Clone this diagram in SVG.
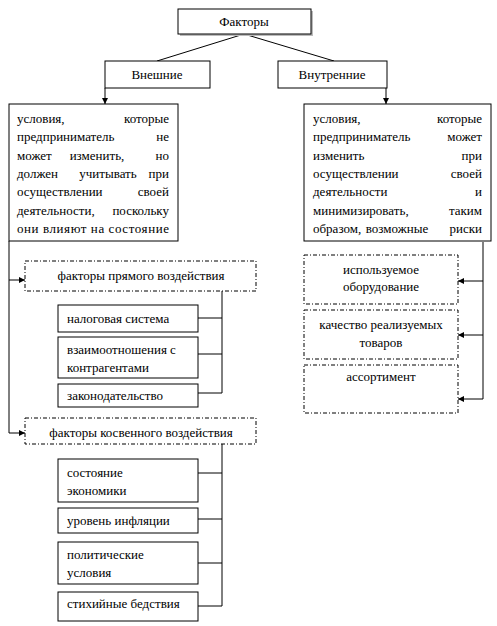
<svg xmlns="http://www.w3.org/2000/svg" width="497" height="626" viewBox="0 0 497 626">
<defs>
<style>
text{font-size:13px;fill:#000}
.box{fill:#fff;stroke:#000;stroke-width:1}
.dash{fill:#fff;stroke:#000;stroke-width:1;stroke-dasharray:4 2 1 2}
.ln{fill:none;stroke:#000;stroke-width:1}
.m{text-anchor:middle}
.e{text-anchor:end}
</style>
<marker id="ah" markerUnits="userSpaceOnUse" markerWidth="7" markerHeight="6" refX="6" refY="3" orient="auto">
<path d="M0,0 L6,3 L0,6 z" fill="#000"/>
</marker>
</defs>
<rect width="497" height="626" fill="#fff"/>
<g font-family="Liberation Serif, DejaVu Serif, serif">
<g id="connectors">
<path class="ln" d="M244,34 L157,61"/>
<path class="ln" d="M244,34 L334,61"/>
<path class="ln" d="M105,88 V104" marker-end="url(#ah)"/>
<path class="ln" d="M386,88 V104" marker-end="url(#ah)"/>
<path class="ln" d="M9,241 V433 H25" marker-end="url(#ah)"/>
<path class="ln" d="M9,280 H25" marker-end="url(#ah)"/>
<path class="ln" d="M222,291 V393 H198 M198,318 H222 M198,354 H222"/>
<path class="ln" d="M222,444 V606 H198 M198,473 H222 M198,519 H222 M198,563 H222"/>
<path class="ln" d="M483,242 V399 H458" marker-end="url(#ah)"/>
<path class="ln" d="M483,281 H458" marker-end="url(#ah)"/>
<path class="ln" d="M483,335 H458" marker-end="url(#ah)"/>
</g>

<g id="factors">
<rect x="180" y="11" width="133" height="25" fill="#bbb"/>
<rect class="box" x="178" y="9" width="133" height="25"/>
<text class="m" x="244" y="26">Факторы</text>
</g>

<g id="external">
<rect class="box" x="105" y="61" width="105" height="27"/>
<text class="m" x="157" y="79">Внешние</text>
</g>

<g id="internal">
<rect class="box" x="278" y="61" width="109" height="27"/>
<text class="m" x="332" y="79">Внутренние</text>
</g>

<g id="external-desc">
<rect class="box" x="9" y="104" width="169" height="137"/>
<text x="17" y="123">условия,</text><text class="e" x="169" y="123">которые</text>
<text x="17" y="141">предприниматель</text><text class="e" x="169" y="141">не</text>
<text x="17" y="160">может</text><text class="m" x="97" y="160">изменить,</text><text class="e" x="169" y="160">но</text>
<text x="17" y="178">должен</text><text class="m" x="108" y="178">учитывать</text><text class="e" x="169" y="178">при</text>
<text x="17" y="196">осуществлении</text><text class="e" x="169" y="196">своей</text>
<text x="17" y="215">деятельности,</text><text class="e" x="169" y="215">поскольку</text>
<text x="17" y="233" textLength="152" lengthAdjust="spacing">они влияют на состояние</text>
</g>

<g id="internal-desc">
<rect class="box" x="304" y="104" width="187" height="137"/>
<text x="313" y="123">условия,</text><text class="e" x="482" y="123">которые</text>
<text x="313" y="141">предприниматель</text><text class="e" x="482" y="141">может</text>
<text x="313" y="160">изменить</text><text class="e" x="482" y="160">при</text>
<text x="313" y="178">осуществлении</text><text class="e" x="482" y="178">своей</text>
<text x="313" y="196">деятельности</text><text class="e" x="482" y="196">и</text>
<text x="313" y="215">минимизировать,</text><text class="e" x="482" y="215">таким</text>
<text x="313" y="233">образом,</text><text class="m" x="397" y="233">возможные</text><text class="e" x="482" y="233">риски</text>
</g>

<g id="direct">
<rect class="dash" x="25" y="261" width="231" height="30"/>
<text class="m" x="141" y="280">факторы прямого воздействия</text>
</g>
<g id="tax">
<rect class="box" x="58" y="305" width="140" height="27"/>
<text x="67" y="323">налоговая система</text>
</g>
<g id="relations">
<rect class="box" x="58" y="337" width="140" height="41"/>
<text x="67" y="354">взаимоотношения с</text>
<text x="67" y="372">контрагентами</text>
</g>
<g id="law">
<rect class="box" x="58" y="384" width="140" height="23"/>
<text x="67" y="400">законодательство</text>
</g>

<g id="indirect">
<rect class="dash" x="25" y="418" width="231" height="26"/>
<text class="m" x="141" y="437">факторы косвенного воздействия</text>
</g>
<g id="economy">
<rect class="box" x="58" y="459" width="140" height="43"/>
<text x="67" y="477">состояние</text>
<text x="67" y="495">экономики</text>
</g>
<g id="inflation">
<rect class="box" x="58" y="508" width="140" height="25"/>
<text x="67" y="525">уровень инфляции</text>
</g>
<g id="politics">
<rect class="box" x="58" y="542" width="140" height="42"/>
<text x="67" y="559">политические</text>
<text x="67" y="577">условия</text>
</g>
<g id="disasters">
<rect class="box" x="58" y="592" width="140" height="29"/>
<text x="67" y="608">стихийные бедствия</text>
</g>

<g id="equipment">
<rect class="dash" x="304" y="255" width="154" height="49"/>
<text class="m" x="381" y="274">используемое</text>
<text class="m" x="381" y="291">оборудование</text>
</g>
<g id="quality">
<rect class="dash" x="304" y="310" width="154" height="49"/>
<text class="m" x="381" y="329">качество реализуемых</text>
<text class="m" x="381" y="347">товаров</text>
</g>
<g id="assortment">
<rect class="dash" x="304" y="365" width="154" height="48"/>
<text class="m" x="381" y="381">ассортимент</text>
</g>
</g>
</svg>
